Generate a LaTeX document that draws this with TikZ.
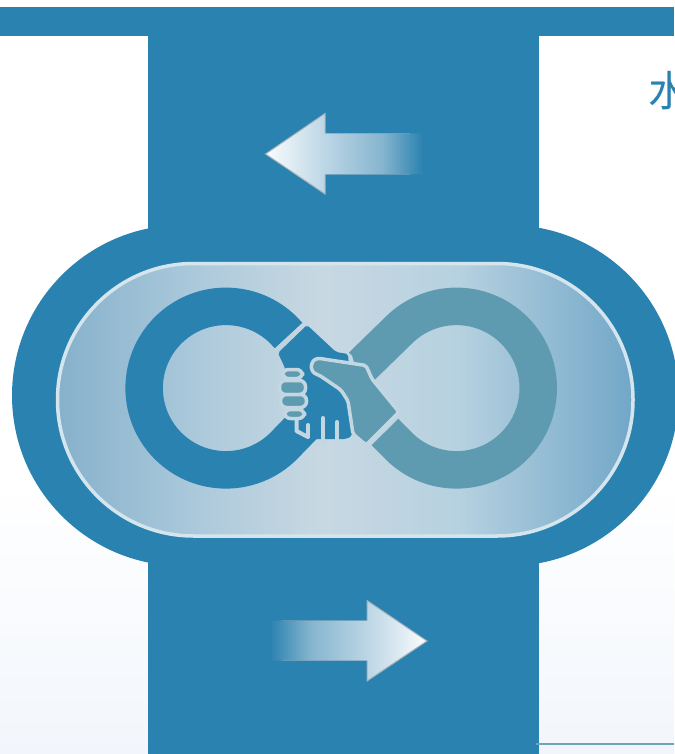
\documentclass[tikz,border=0pt]{standalone}
\usepackage{xcolor}
\usepackage{fontspec}
\usepackage{tikz}
\newfontfamily\cjk{Noto Sans CJK SC}
\definecolor{bandblue}{HTML}{2A82B0}
\definecolor{handteal}{HTML}{5F9BB0}
\definecolor{seamlight}{HTML}{C3D7E2}
\definecolor{rimlight}{HTML}{D5E5EE}
\definecolor{arrowrim}{HTML}{A3B1BB}
\definecolor{ovalA}{HTML}{86B1CC}
\definecolor{ovalB}{HTML}{AECBDC}
\definecolor{ovalC}{HTML}{C8D8E2}
\definecolor{ovalD}{HTML}{B6D1E0}
\definecolor{ovalE}{HTML}{72A7C8}
\definecolor{tipwhite}{HTML}{FAFCFD}
\definecolor{tipbase}{HTML}{BCD6E5}
\definecolor{tipmid}{HTML}{86B5CF}
\definecolor{pagetint}{HTML}{F2F6FC}
\pgfdeclarehorizontalshading{ovalglow}{100bp}{color(0bp)=(ovalA);color(25bp)=(ovalA);color(38bp)=(ovalB);color(48bp)=(ovalC);color(60bp)=(ovalD);color(75bp)=(ovalE);color(100bp)=(ovalE)}
\pgfdeclarehorizontalshading{arrowleft}{100bp}{color(0bp)=(tipwhite);color(25bp)=(tipwhite);color(44bp)=(tipbase);color(62bp)=(tipmid);color(75bp)=(bandblue);color(100bp)=(bandblue)}
\pgfdeclarehorizontalshading{arrowright}{100bp}{color(0bp)=(bandblue);color(25bp)=(bandblue);color(38bp)=(tipmid);color(56bp)=(tipbase);color(75bp)=(tipwhite);color(100bp)=(tipwhite)}
\tikzset{
ringstroke/.style={line width=37.5pt,line cap=butt,line join=round},
handrim/.style={draw=seamlight,line width=3.5pt},
pill/.style={fill=handteal,handrim,rounded corners=6pt},
fingergap/.style={draw=seamlight,line width=4pt,line cap=round,line join=round},
arrowedge/.style={draw=arrowrim,line width=1pt,line join=miter}
}
\begin{document}
\begin{tikzpicture}[x=1pt,y=-1pt]
\useasboundingbox(0,0)rectangle(674,754);
\shade[top color=white,bottom color=pagetint](0,480)rectangle(674,754);
\fill[bandblue](0,7)rectangle(674,36);
\fill[bandblue](148,36)rectangle(539,754);
\draw[handteal!90!white,line width=2.5pt](536,744)--(674,744);
\fill[bandblue,rounded corners=170.5pt](12,225)rectangle(678.5,566);
\draw[rimlight,line width=3.5pt,shading=ovalglow,shade,rounded corners=136pt](57.5,263.5)rectangle(633,536);
\node[text=bandblue,font=\cjk\fontsize{42}{42}\selectfont,inner sep=0pt](shuiLabel)at(669.5,91){水};
% up and down arrows
\shade[shading=arrowleft](265.5,154)--(325,113.5)--(325,133.5)--(423,133.5)--(423,174.5)--(325,174.5)--(325,194)--cycle;
\draw[arrowedge](325,133.5)--(325,113.5)--(265.5,154)--(325,194)--(325,174.5);
\draw[arrowrim,opacity=.35](325,133.5)--(410,133.5)(325,174.5)--(410,174.5);
\shade[shading=arrowright](427,641)--(367,600.5)--(367,620.5)--(270,620.5)--(270,660.5)--(367,660.5)--(367,681)--cycle;
\draw[arrowedge](367,620.5)--(367,600.5)--(427,641)--(367,681)--(367,660.5);
\draw[arrowrim,opacity=.35](367,620.5)--(282,620.5)(367,660.5)--(282,660.5);
% infinity
\draw[ringstroke,bandblue](288.5,335.5)--(283.7,330.3)arc[start angle=-45,end angle=-315,radius=81.75]--(305,424);
\draw[ringstroke,handteal](362,366)--(398.7,330.3)arc[start angle=-135,end angle=135,radius=81.75]--(385,432);
\fill[handteal](351,351.5)--(354.5,364)--(372,381)--(375,379)--(378,350)--cycle;
% blue hand
\fill[bandblue,rounded corners=2pt](307,325)--(336,352)--(348,354)--(349,366)--(352,436)--(346,439)--(297,439)--(292,411)--(285,368)--(278,353)--cycle;
\draw[fingergap](296.5,418)--(296.5,431)--(308,437);
\draw[fingergap](308,425)--(308,436);
\draw[fingergap](323,418)--(323,442);
\draw[fingergap](337,422)--(337,442);
\foreach \xa/\ya/\xb/\yb in {282.5/369.5/302.5/378.5,279.5/380.5/305.5/394.5,280.5/394.5/306.5/407.5,284.5/409.5/304.5/418.5}
\draw[pill](\xa,\ya)rectangle(\xb,\yb);
% teal hand
\draw[fill=handteal,handrim,rounded corners=2pt,line join=round](323,359).. controls (310,356.5) and (308,372) .. (319,375)--(341,390)--(348,401)--(353,434)--(366,445)--(399,412)--(372,379)--(366,365.5)--cycle;
\end{tikzpicture}
\end{document}
